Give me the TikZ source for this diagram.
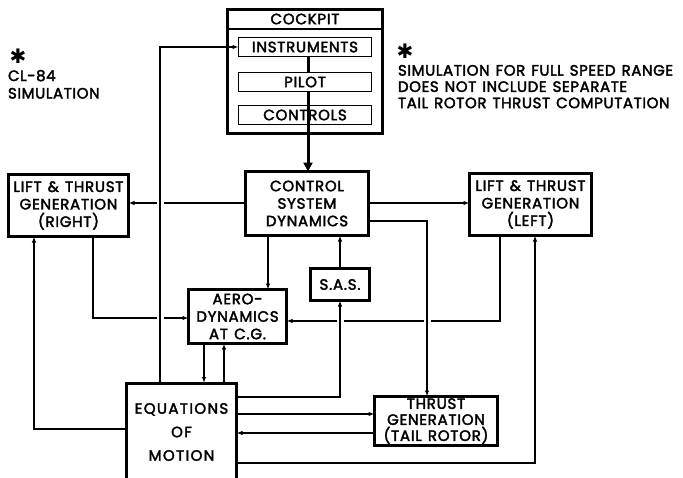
\documentclass[tikz,border=0pt]{standalone}
\usepackage{fontspec}
\setmainfont{Poppins}[FakeBold=2.5, LetterSpace=5, WordSpace=1.3]
\newfontfamily\notefont{Poppins}[FakeBold=2.5, LetterSpace=4, WordSpace=1.3]
\newfontfamily\eomfont{Poppins}[FakeBold=2.5, LetterSpace=9]
\newfontfamily\symf{DejaVu Sans}
\usetikzlibrary{arrows.meta}
\pgfdeclarelayer{bg}
\pgfsetlayers{bg,main}
\begin{document}
\begin{tikzpicture}[x=1pt,y=-1pt,
  every node/.style={inner sep=0pt, outer sep=0pt},
  lbl/.style={font=\fontsize{15}{17.5}\selectfont, align=center},
  box/.style={draw, line width=3pt, rectangle, lbl},
  inbox/.style={draw, line width=1.5pt, rectangle, lbl},
  conn/.style={line width=1.6pt, -{Latex[length=6pt,width=4.5pt]}},
  bigconn/.style={line width=3pt, -{Triangle[length=9pt,width=9pt]}},
  plainthick/.style={line width=3pt},
  halo/.style={preaction={draw=white, line width=7pt, arrows=-}},
  note/.style={font=\notefont\fontsize{15}{16.3}\selectfont, align=left, anchor=north west},
  star/.style={font=\symf\fontsize{20}{20}\selectfont}]
\useasboundingbox (0,0) rectangle (683,477);

% boxes
\node[box, minimum width=155pt, minimum height=124pt] (cockpit) at (305,71.5) {};
\node[lbl] (cocktxt) at (305,19) {COCKPIT};
\node[inbox, minimum width=133pt, minimum height=19pt] (inst) at (305,47) {INSTRUMENTS};
\node[inbox, minimum width=133pt, minimum height=19pt] (pilot) at (305,82) {PILOT};
\node[inbox, minimum width=133pt, minimum height=19pt] (controls) at (305,115) {CONTROLS};

\node[box, minimum width=123pt, minimum height=64pt] (control) at (307,203.5) {CONTROL\\SYSTEM\\DYNAMICS};
\node[box, minimum width=120pt, minimum height=62pt] (liftR) at (68.5,205.5) {LIFT \& THRUST\\GENERATION\\(RIGHT)};
\node[box, minimum width=122pt, minimum height=62pt] (liftL) at (530.5,204.5) {LIFT \& THRUST\\GENERATION\\(LEFT)};
\node[box, minimum width=98pt, minimum height=54pt] (aero) at (237.5,316.5) {AERO-\\DYNAMICS\\AT C.G.};
\node[box, minimum width=59pt, minimum height=32pt] (sas) at (340,284.5) {S.A.S.};
\node[box, minimum width=110pt, minimum height=98pt, font=\eomfont\fontsize{15}{23.5}\selectfont] (eom) at (181.5,432) {EQUATIONS\\OF\\MOTION};
\node[box, minimum width=123pt, minimum height=49pt, font=\fontsize{15}{16}\selectfont] (thrust) at (436,421) {THRUST\\GENERATION\\(TAIL ROTOR)};

% notes
\node[star, anchor=center] (star1) at (18,56) {✱};
\node[note, font=\notefont\fontsize{15}{17.5}\selectfont] (note1) at (8,70) {CL-84\\SIMULATION};
\node[star, anchor=center] (star2) at (405,51) {✱};
\node[note] (note2) at (398,65) {SIMULATION FOR FULL SPEED RANGE\\DOES NOT INCLUDE SEPARATE\\TAIL ROTOR THRUST COMPUTATION};

\begin{pgfonlayer}{bg}
  % cockpit internal
  \draw[line width=1.5pt] (cockpit.west |- 0,29) -- (cockpit.east |- 0,29);
  \draw[plainthick] (inst.south -| 308,0) -- (pilot.north -| 308,0);
  \draw[plainthick] (pilot.south -| 308,0) -- (controls.south -| 308,0);
  \draw[bigconn] (controls.south -| 308,0) -- (control.north -| 308,0);
  % lines that get broken at crossings (drawn first)
  \draw[conn] (control.west |- 0,203) -- (liftR.east |- 0,203);
  \draw[conn] (liftL.south -| 500,0) |- (aero.east |- 0,321);
  \draw[conn] (liftR.south -| 93,0) |- (aero.west |- 0,318);
  % continuous crossing lines
  \draw[conn, halo] (eom.north -| 160,0) |- (inst.west);
  \draw[conn, halo] (control.east |- 0,221) -| (thrust.north -| 427,0);
  \draw[conn, halo] (eom.east |- 0,397) -| (sas.south);
  % others
  \draw[conn] (control.east |- 0,203) -- (liftL.west |- 0,203);
  \draw[conn] (control.south -| 268,0) -- (aero.north -| 268,0);
  \draw[conn] (sas.north) -- (control.south -| sas.north);
  \draw[conn] (aero.south -| 204,0) -- (eom.north -| 204,0);
  \draw[conn] (eom.north -| 224,0) -- (aero.south -| 224,0);
  \draw[conn] (eom.east |- 0,414) -- (thrust.west |- 0,414);
  \draw[conn] (thrust.west |- 0,433) -- (eom.east |- 0,433);
  \draw[conn] (eom.east |- 0,463) -| (liftL.south -| 535,0);
  \draw[conn] (eom.west |- 0,429) -| (liftR.south -| 34,0);
\end{pgfonlayer}
\end{tikzpicture}
\end{document}
